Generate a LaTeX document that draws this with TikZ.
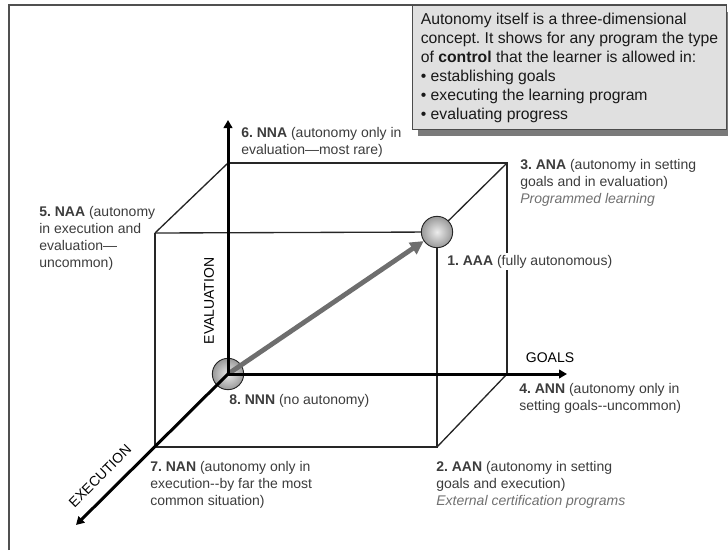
\documentclass[tikz,border=0pt]{standalone}
\usepackage{fontspec}
\setmainfont{Liberation Sans}
\usetikzlibrary{arrows.meta,shadows}
\frenchspacing
\definecolor{lbl}{HTML}{3C3C3C}
\definecolor{ital}{HTML}{707070}
\definecolor{boxfill}{HTML}{E0E0E0}
\definecolor{shadowc}{HTML}{7A7A7A}
\definecolor{arrowc}{HTML}{6E6E6E}
\definecolor{framec}{HTML}{505050}
\tikzset{
  cubeedge/.style={line width=1pt, draw=black!85},
  axisline/.style={line width=2.25pt, draw=black, -{Triangle[length=6pt,width=6.5pt]}},
  diagarrow/.style={line width=3.6pt, draw=arrowc, -{Triangle[length=10pt,width=10pt]}},
  lab/.style={anchor=north west, inner sep=0pt, align=left, text=lbl, font=\fontsize{10.5}{12.75}\selectfont},
  axislab/.style={inner sep=0pt, text=black, font=\fontsize{10.5}{12.75}\selectfont},
  ballnode/.style={circle, minimum size=23.5pt, inner sep=0pt, draw=black!85, line width=0.7pt, inner color=gray!15, outer color=gray!80},
  infobox/.style={anchor=north west, draw=black!70, line width=0.8pt, fill=boxfill, minimum width=235.5pt, minimum height=93pt, inner xsep=3pt, align=left, text=black!90, font=\fontsize{11.8}{14.25}\selectfont, drop shadow={shadow xshift=3.75pt, shadow yshift=-4.5pt, fill=shadowc, opacity=1}}
}
\begin{document}
\begin{tikzpicture}[x=0.75pt,y=-0.75pt]
\useasboundingbox (0,0) rectangle (728,550);
% frame
\draw[framec, line width=1.5pt] (9,550) -- (9,5) -- (727,5);
% cube corners
\coordinate (O) at (228,374);
\coordinate (BTL) at (228,163);
\coordinate (BTR) at (507,163);
\coordinate (BBR) at (507,374);
\coordinate (FTL) at (155,233);
\coordinate (FTR) at (437,232);
\coordinate (FBR) at (437,447);
\coordinate (FBL) at (155,447);
\coordinate (E) at (228,120);
\coordinate (G) at (567,374);
\coordinate (X) at (76,525);
% cube edges
\draw[cubeedge] (BTL) -- (BTR) -- (BBR);
\draw[cubeedge] (FTL) -- (FTR);
\draw[cubeedge] (FTR) -- (FBR) -- (FBL) -- (FTL);
\draw[cubeedge] (BTL) -- (FTL);
\draw[cubeedge] (BTR) -- (FTR);
\draw[cubeedge] (BBR) -- (FBR);
% balls
\node[ballnode] (NNN) at (O) {};
\node[ballnode] (AAA) at (FTR) {};
% diagonal arrow
\draw[diagarrow] (NNN.center) -- (AAA);
% axes
\draw[axisline] (NNN.center) -- (E);
\draw[axisline] (NNN.center) -- (G);
\draw[axisline] (NNN.center) -- (X);
% axis labels
\node[axislab, rotate=90] (evl) at (209,301) {EVALUATION};
\node[axislab] (gol) at (550,358) {GOALS};
\node[axislab, rotate=45] (exl) at (100,476) {EXECUTION};
% corner labels
\node[lab] (nna) at (241,127) {\textbf{6. NNA} (autonomy only in\\evaluation—most rare)};
\node[lab] (naa) at (39,206) {\textbf{5. NAA} (autonomy\\in execution and\\evaluation—\\uncommon)};
\node[lab] (ana) at (520,159) {\textbf{3. ANA} (autonomy in setting\\goals and in evaluation)\\\textcolor{ital}{\textit{Programmed learning}}};
\node[lab, fill=white, inner sep=1.5pt] (aaa) at (445,253) {\textbf{1. AAA} (fully autonomous)};
\node[lab] (ann) at (519,383) {\textbf{4. ANN} (autonomy only in\\setting goals-{}-uncommon)};
\node[lab] (aan) at (436,461) {\textbf{2. AAN} (autonomy in setting\\goals and execution)\\\textcolor{ital}{\textit{External certification programs}}};
\node[lab] (nan) at (150,461) {\textbf{7. NAN} (autonomy only in\\execution-{}-by far the most\\common situation)};
\node[lab] (nnn) at (229,394) {\textbf{8. NNN} (no autonomy)};
% info box
\node[infobox] (info) at (412,5) {Autonomy itself is a three-dimensional\\concept. It shows for any program the type\\of \textbf{control} that the learner is allowed in:\\• establishing goals\\• executing the learning program\\• evaluating progress};
\end{tikzpicture}
\end{document}
